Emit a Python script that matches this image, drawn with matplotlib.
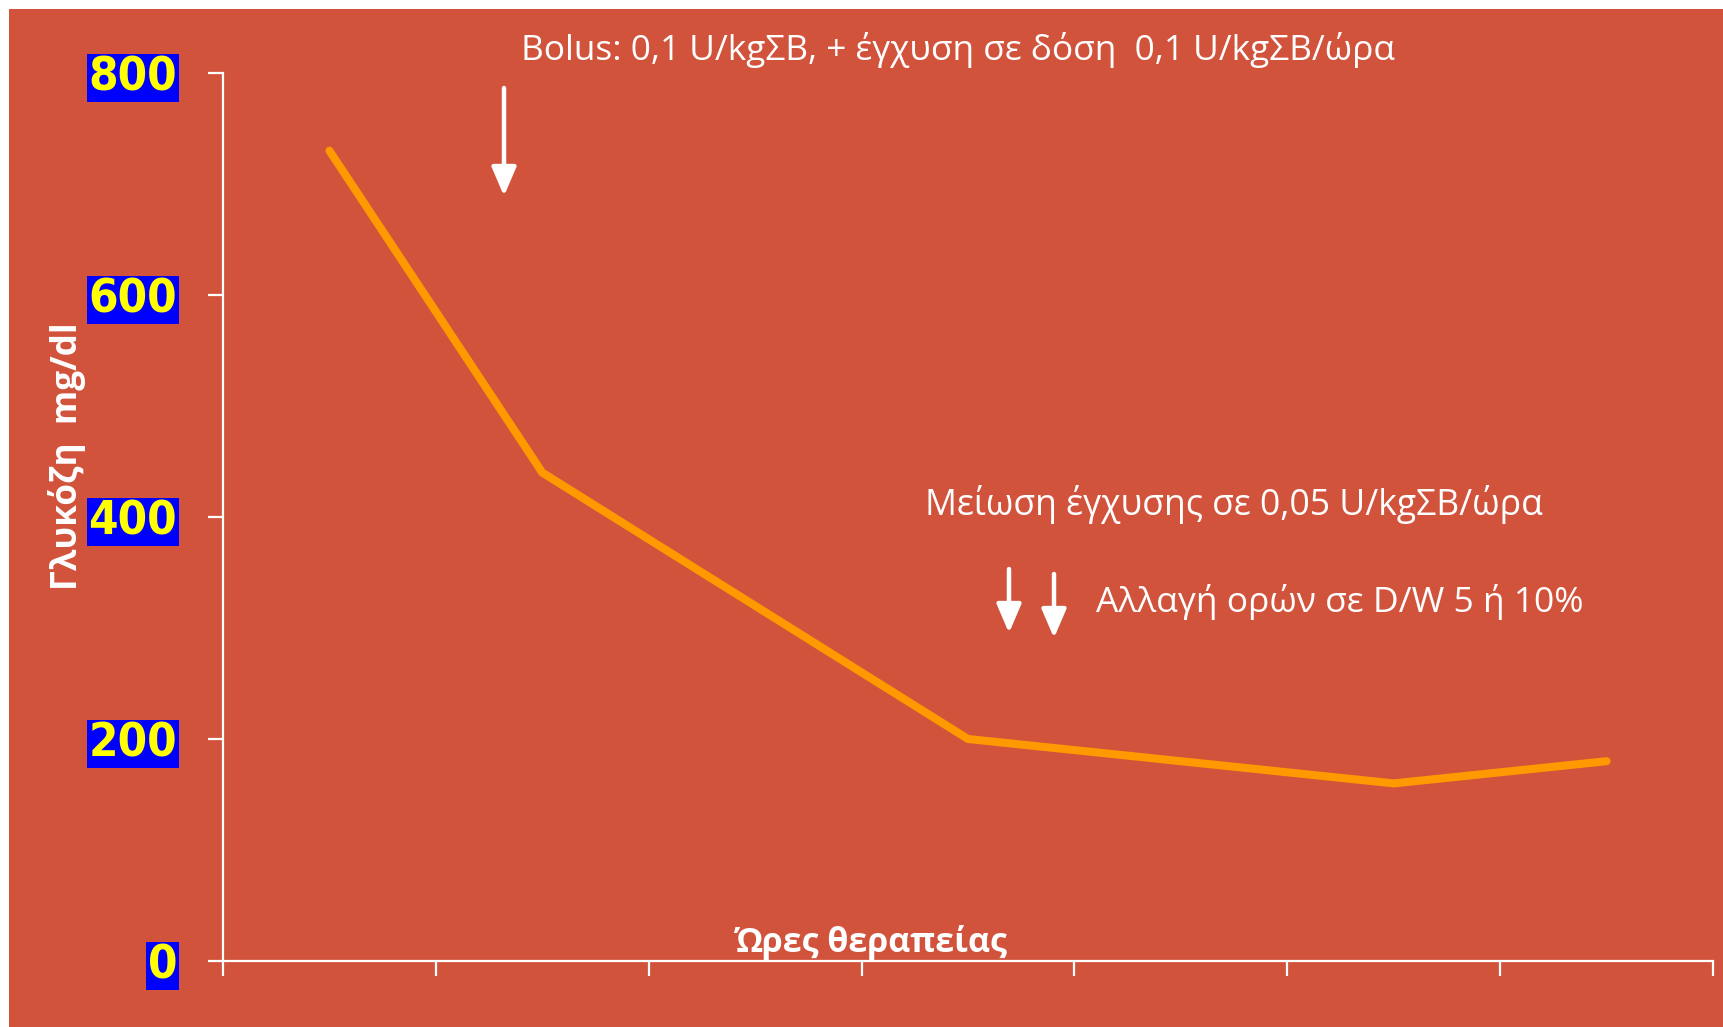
import matplotlib
matplotlib.use("Agg")
import matplotlib.pyplot as plt
from matplotlib.patches import Rectangle, FancyArrowPatch

# ---- data ----
hour_slots = [1, 2, 4, 6, 7]            # category slot (1..7) of each measurement
glucose = [730, 440, 200, 160, 180]     # mg/dl
n_slots = 7
y_ticks = [0, 200, 400, 600, 800]
y_tick_labels = ["0", "200", "400", "600", "800"]

title_text = "Bolus: 0,1 U/kgΣB, + έγχυση σε δόση  0,1 U/kgΣB/ώρα"
note1_text = "Μείωση έγχυσης σε 0,05 U/kgΣB/ώρα"
note2_text = "Αλλαγή ορών σε D/W 5 ή 10%"
ylabel_text = "Γλυκόζη  mg/dl"
xlabel_text = "Ώρες θεραπείας"

W, H = 1723, 1027
BG = "#D1533C"
ORANGE = "#FF9900"

fig = plt.figure(figsize=(W / 100, H / 100), dpi=100, facecolor="white")
fig.patches.append(Rectangle((9 / W, 0), 1 - 9 / W, 1 - 9 / H, transform=fig.transFigure,
                             facecolor=BG, edgecolor="none", zorder=-5))

def fx(px):
    return px / W

def fy(py):
    return 1 - py / H

ax = fig.add_axes([fx(223), fy(961), fx(1713) - fx(223), fy(73) - fy(961)])
ax.set_facecolor("none")
ax.set_xlim(0, n_slots)
ax.set_ylim(0, 800)

xs = [s - 0.5 for s in hour_slots]
ax.plot(xs, glucose, color=ORANGE, lw=5.8, solid_capstyle="round", solid_joinstyle="miter", zorder=3)

for side in ["top", "right"]:
    ax.spines[side].set_visible(False)
for side in ["left", "bottom"]:
    ax.spines[side].set_color("white")
    ax.spines[side].set_linewidth(1.6)

ax.set_xticks(range(0, n_slots + 1))
ax.set_xticklabels([])
ax.set_yticks(y_ticks)
ax.set_yticklabels(y_tick_labels)
ax.tick_params(axis="both", colors="white", length=11, width=1.6, direction="out")
ax.tick_params(axis="y", pad=22)
for lab in ax.get_yticklabels():
    lab.set_color("yellow")
    lab.set_fontweight("bold")
    lab.set_fontsize(34)
    lab.set_family("DejaVu Sans")
    lab.set_fontstretch("condensed")
    lab.set_bbox(dict(boxstyle="square,pad=0.04", facecolor="#0000FF", edgecolor="none"))

renderer = fig.canvas.get_renderer()

def fit_text(x_left, y_center, s, target_w, family, weight="normal", size0=28):
    t = fig.text(fx(x_left), fy(y_center), s, color="white", fontsize=size0, family=family,
                 fontweight=weight, ha="left", va="center")
    bb = t.get_window_extent(renderer)
    t.set_fontsize(size0 * target_w / bb.width)
    return t

fam = ["Open Sans", "DejaVu Sans"]
fit_text(521, 50, title_text, 875, fam)
fit_text(925, 505, note1_text, 618, fam)
fit_text(1096, 602, note2_text, 488, fam)

# axis labels
fit_text(735, 942, xlabel_text, 272, fam, weight="bold")
yl = fig.text(fx(67), fy(456), ylabel_text, color="white", fontsize=24, family=fam,
              fontweight="bold", rotation=90, ha="center", va="center")
bb = yl.get_window_extent(renderer)
yl.set_fontsize(24 * 268 / bb.height)

# arrows (annotation positions in pixels)
def down_arrow(x, y0, y1):
    fig.add_artist(FancyArrowPatch(
        (fx(x), fy(y0)), (fx(x), fy(y1)), transform=fig.transFigure,
        arrowstyle="-|>,head_length=7,head_width=3", color="white", lw=3.2,
        shrinkA=0, shrinkB=0, mutation_scale=2.5, zorder=5))

down_arrow(504, 88, 196)
down_arrow(1009, 569, 633)
down_arrow(1054, 574, 638)

fig.savefig("out.png", dpi=100, facecolor="white")
